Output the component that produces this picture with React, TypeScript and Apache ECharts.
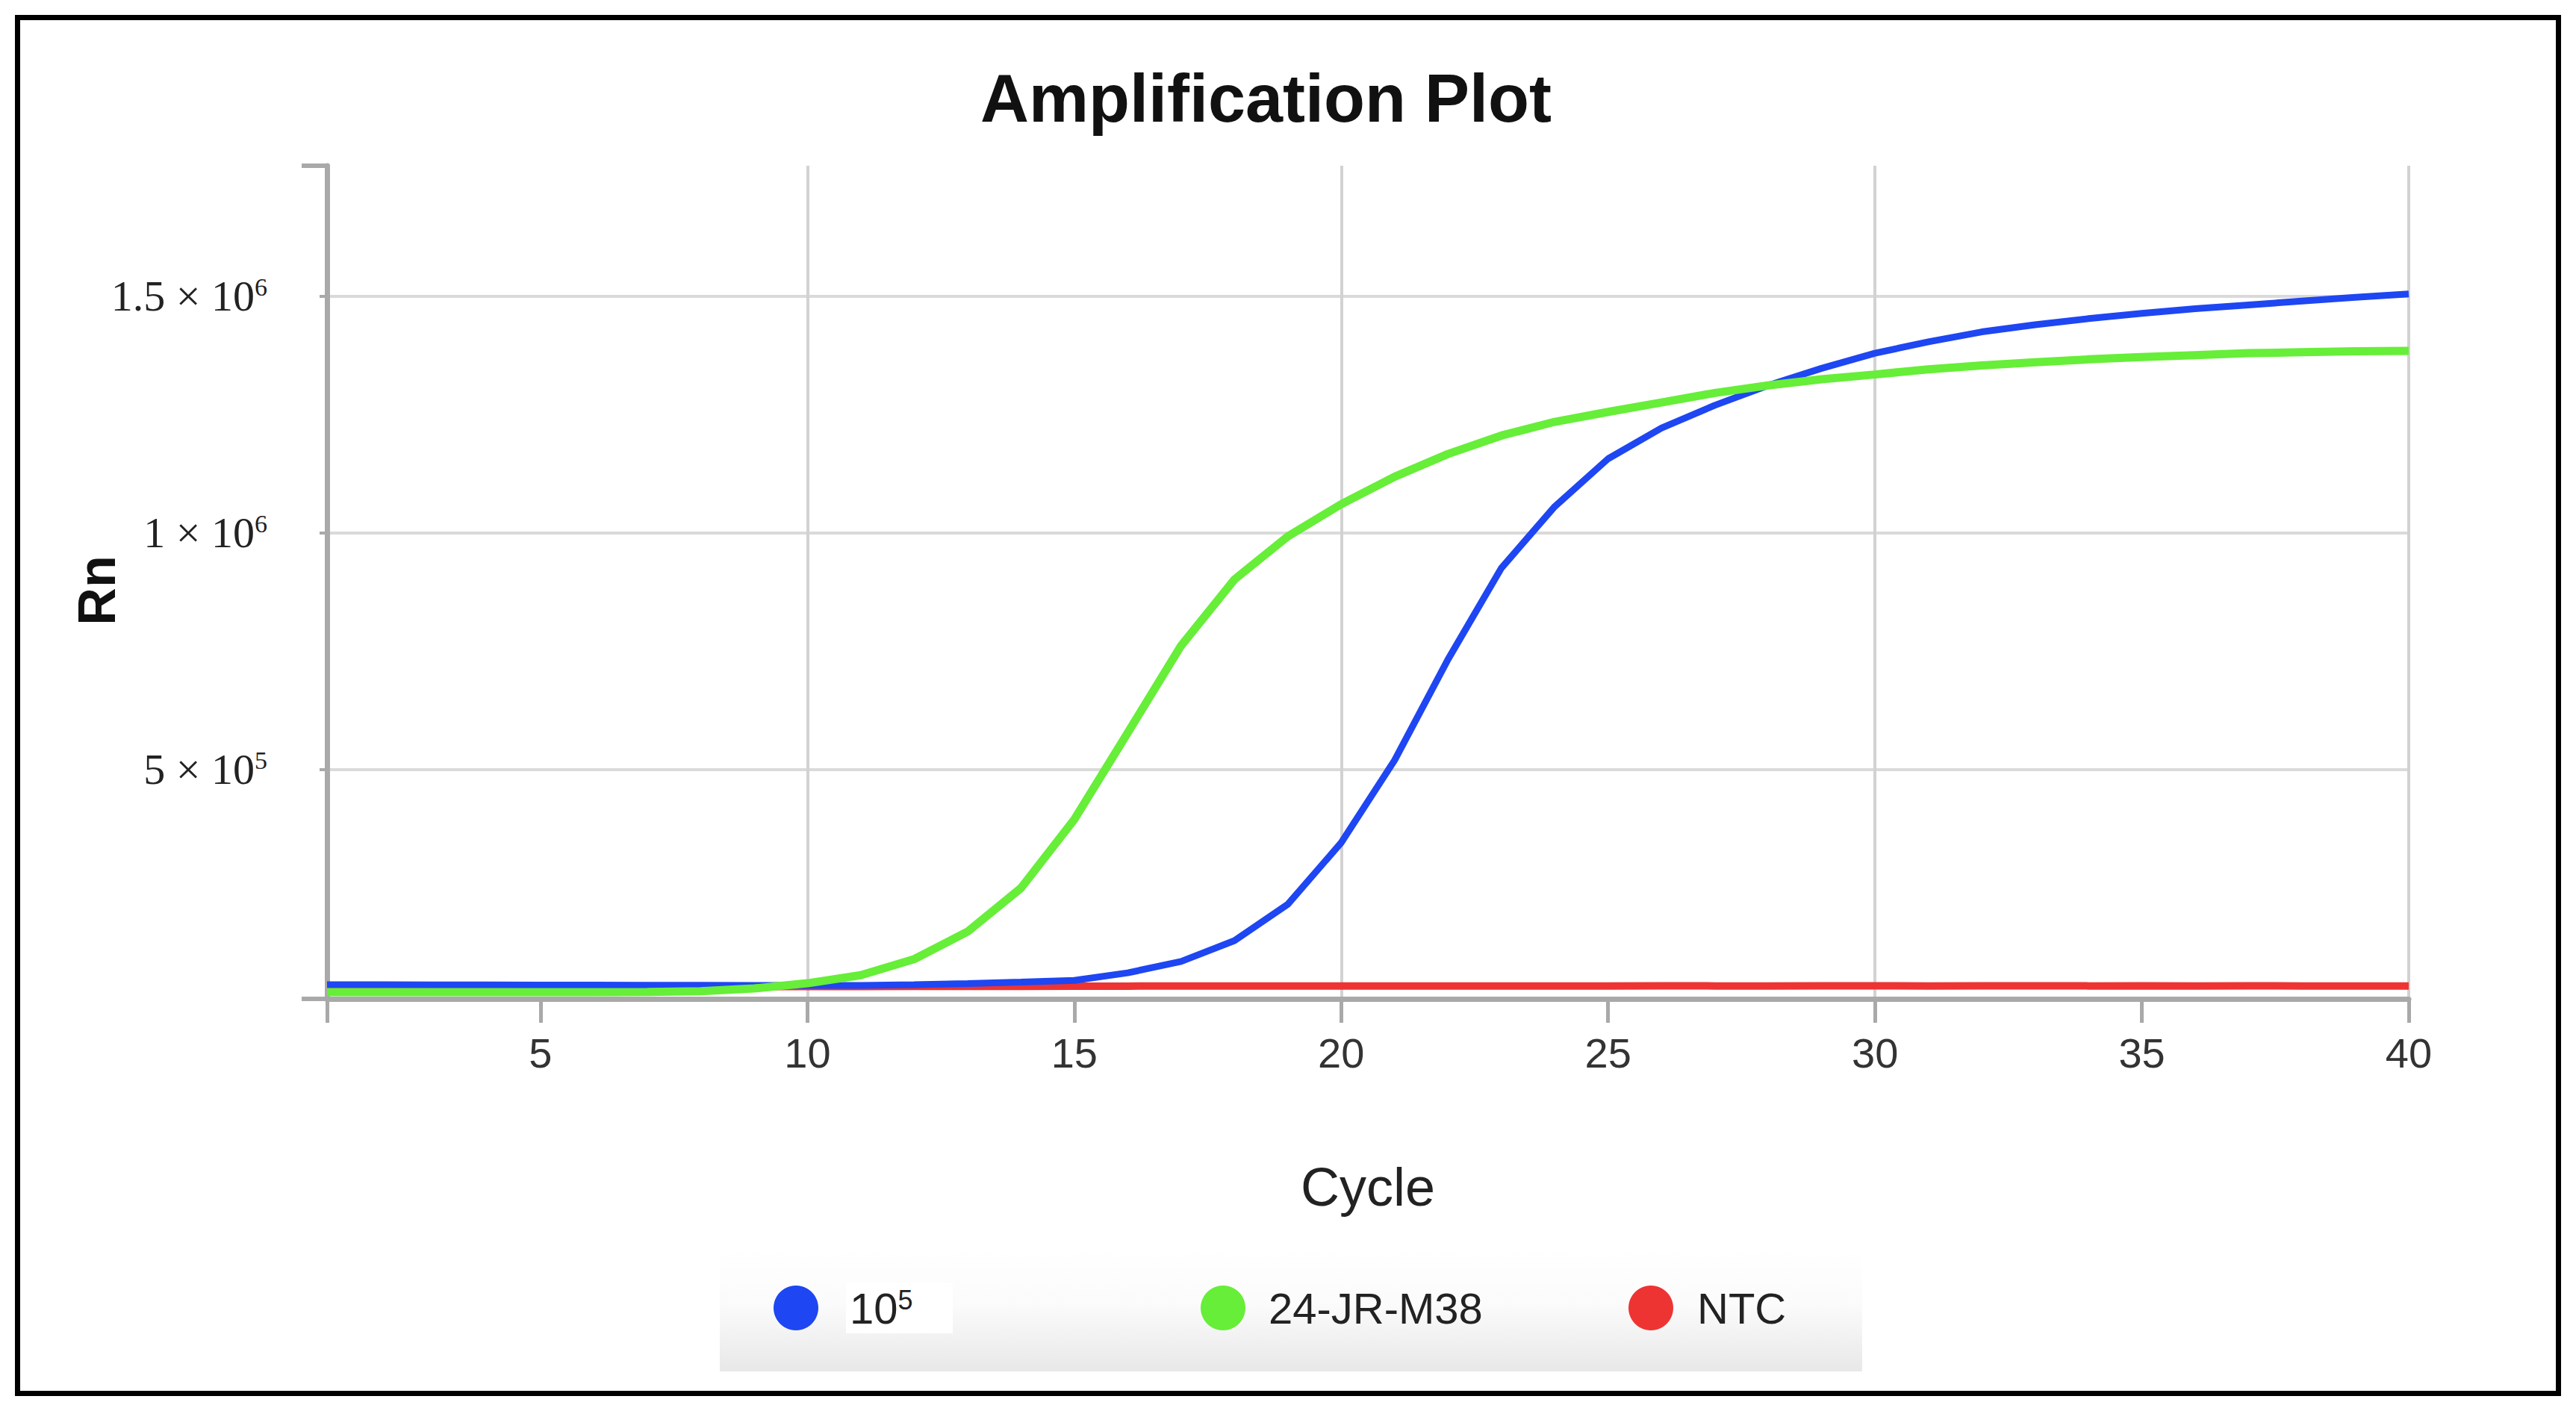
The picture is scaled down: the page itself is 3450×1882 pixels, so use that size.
import React, { useEffect, useRef } from 'react';
import * as echarts from 'echarts';

// cycle numbers on the x axis
const cycles = [
    '1', '2', '3', '4', '5', '6', '7', '8', '9', '10',
    '11', '12', '13', '14', '15', '16', '17', '18', '19', '20',
    '21', '22', '23', '24', '25', '26', '27', '28', '29', '30',
    '31', '32', '33', '34', '35', '36', '37', '38', '39', '40'
];
const xTickLabels = ['5', '10', '15', '20', '25', '30', '35', '40'];
const xGridCycles = ['10', '20', '30', '40'];

const seriesNames = ['10⁵', '24-JR-M38', 'NTC'];
const seriesColors = ['#1E46F2', '#66EE38', '#EE3333'];

// Rn values
const sample105 = [
    45000, 44800, 44600, 44500, 44300, 44100, 43900, 43700, 43500, 43300,
    43500, 45000, 47500, 50500, 54000, 70000, 94000, 138000, 215000, 345000,
    519000, 732000, 925000, 1055000, 1156000, 1221000, 1269000, 1311000, 1347000, 1379000,
    1403000, 1424000, 1439000, 1452000, 1463000, 1473000, 1481000, 1489000, 1497000, 1504000
];
const sampleM38 = [
    29000, 29000, 29000, 29000, 29000, 29000, 29500, 31000, 37000, 48000,
    65000, 99000, 157000, 249000, 394000, 577000, 761000, 901000, 992000, 1060000,
    1118000, 1166000, 1205000, 1234000, 1255000, 1275000, 1295000, 1311000, 1324000, 1334000,
    1345000, 1353000, 1360000, 1366000, 1371000, 1375000, 1379000, 1381000, 1383000, 1384000
];
const ntc = [
    40500, 40500, 40600, 40600, 40800, 40800, 41000, 41000, 41100, 41200,
    41200, 41300, 41500, 41600, 41800, 42000, 42100, 42100, 42200, 42300,
    42300, 42400, 42400, 42300, 42400, 42500, 42400, 42400, 42500, 42500,
    42400, 42500, 42500, 42400, 42500, 42400, 42500, 42400, 42400, 42400
];

const yMin = 15000;
const yMax = 1775000;
const yTickValues = [500000, 1000000, 1500000];
const yTickMantissa = ['5', '1', '1.5'];
const yTickExponent = ['5', '6', '6'];

const legendLefts = [1036, 1608, 2181];
const legendTextPad = [37, 26, 27];

const axisGray = '#a9a9a9';

const App: React.FC = () => {
    const chartRef = useRef<HTMLDivElement>(null);

    useEffect(() => {
        document.body.style.margin = '0';
        if (!chartRef.current) return;

        const chart = echarts.init(chartRef.current, undefined, { renderer: 'svg' });

        const seriesData = [sample105, sampleM38, ntc];
        // draw order: NTC underneath, then 10^5, then 24-JR-M38
        const drawOrder = [2, 0, 1];
        const lineWidths = [9, 11, 10];

        const option = {
            animation: false,
            backgroundColor: '#ffffff',
            textStyle: { fontFamily: 'Liberation Sans' },
            title: {
                text: 'Amplification Plot',
                left: 1313,
                top: 87,
                padding: 0,
                textStyle: {
                    fontFamily: 'Liberation Sans',
                    fontWeight: 'bold',
                    fontSize: 90,
                    lineHeight: 90,
                    color: '#111'
                }
            },
            grid: { left: 438, top: 222, width: 2788, height: 1116 },
            xAxis: {
                type: 'category',
                data: cycles,
                boundaryGap: false,
                axisLine: { onZero: false, lineStyle: { color: axisGray, width: 7 } },
                axisTick: {
                    interval: (_i: number, v: string) => v === cycles[0] || xTickLabels.includes(v),
                    length: 32,
                    lineStyle: { color: axisGray, width: 5 }
                },
                axisLabel: {
                    interval: (_i: number, v: string) => xTickLabels.includes(v),
                    margin: 44,
                    fontFamily: 'Liberation Sans',
                    fontSize: 56,
                    lineHeight: 56,
                    color: '#333'
                },
                splitLine: {
                    show: true,
                    interval: (_i: number, v: string) => xGridCycles.includes(v),
                    lineStyle: { color: '#d2d2d2', width: 4 }
                },
                name: 'Cycle',
                nameLocation: 'middle',
                nameGap: 216,
                nameMoveOverlap: false,
                nameTextStyle: {
                    fontFamily: 'Liberation Sans',
                    fontSize: 72,
                    lineHeight: 72,
                    color: '#222'
                }
            },
            yAxis: [
                {
                    type: 'value',
                    min: yMin,
                    max: yMax,
                    position: 'left',
                    axisLine: { show: true, lineStyle: { color: axisGray, width: 7 } },
                    axisTick: {
                        show: true,
                        customValues: [yMin, yMax],
                        length: 34,
                        lineStyle: { color: axisGray, width: 6 }
                    },
                    axisLabel: {
                        show: true,
                        customValues: yTickValues,
                        margin: 80,
                        formatter: (v: number) => {
                            const i = yTickValues.indexOf(v);
                            if (i < 0) return '';
                            return `{m|${yTickMantissa[i]} × 10}{e|${yTickExponent[i]}}`;
                        },
                        rich: {
                            m: { fontFamily: 'Liberation Serif', fontSize: 58, lineHeight: 58, color: '#222' },
                            e: { fontFamily: 'Liberation Serif', fontSize: 34, lineHeight: 34, color: '#222', verticalAlign: 'top' }
                        }
                    },
                    splitLine: { show: false },
                    name: 'Rn',
                    nameLocation: 'middle',
                    nameRotate: 90,
                    nameGap: 273,
                    nameMoveOverlap: false,
                    nameTextStyle: {
                        fontFamily: 'Liberation Sans',
                        fontWeight: 'bold',
                        fontSize: 70,
                        lineHeight: 70,
                        color: '#111',
                        padding: [0, 22, 0, 0]
                    }
                },
                {
                    type: 'value',
                    min: yMin,
                    max: yMax,
                    position: 'left',
                    axisLine: { show: false },
                    axisTick: {
                        show: true,
                        customValues: yTickValues,
                        length: 10,
                        lineStyle: { color: axisGray, width: 4 }
                    },
                    axisLabel: { show: false },
                    splitLine: { show: true, lineStyle: { color: '#dadada', width: 4 } }
                }
            ],
            legend: seriesNames.map((name, i) => ({
                data: [name],
                left: legendLefts[i],
                top: 1722,
                padding: 0,
                icon: 'circle',
                itemWidth: 60,
                itemHeight: 60,
                selectedMode: false,
                formatter: (n: string) => (n === seriesNames[0] ? '{b|10}{s|5}' : n),
                textStyle: {
                    fontFamily: 'Liberation Sans',
                    fontSize: 58,
                    color: '#222',
                    padding: [0, 0, 0, legendTextPad[i]],
                    rich: {
                        b: { fontFamily: 'Liberation Sans', fontSize: 58, lineHeight: 58, color: '#222' },
                        s: { fontFamily: 'Liberation Sans', fontSize: 36, lineHeight: 36, color: '#222', verticalAlign: 'top' }
                    }
                }
            })),
            graphic: [
                {
                    type: 'rect',
                    shape: { x: 964, y: 1672, width: 1530, height: 165 },
                    style: {
                        fill: {
                            type: 'linear', x: 0, y: 0, x2: 0, y2: 1,
                            colorStops: [
                                { offset: 0, color: '#ffffff' },
                                { offset: 0.45, color: '#fbfbfb' },
                                { offset: 1, color: '#e8e8e8' }
                            ]
                        }
                    },
                    silent: true
                },
                {
                    type: 'rect',
                    shape: { x: 1133, y: 1718, width: 143, height: 68 },
                    style: { fill: '#ffffff' },
                    silent: true
                },
                {
                    type: 'rect',
                    shape: { x: 23.5, y: 23.5, width: 3403, height: 1843 },
                    style: { fill: 'none', stroke: '#000000', lineWidth: 7 },
                    silent: true
                }
            ],
            series: drawOrder.map(i => ({
                name: seriesNames[i],
                type: 'line',
                data: seriesData[i],
                symbol: 'none',
                smooth: false,
                color: seriesColors[i],
                itemStyle: { color: seriesColors[i] },
                lineStyle: { color: seriesColors[i], width: lineWidths[i] },
                emphasis: { disabled: true }
            }))
        };

        chart.setOption(option);

        return () => {
            chart.dispose();
        };
    }, []);

    return <div ref={chartRef} style={{ width: 3450, height: 1882 }} />;
};

export default App;
